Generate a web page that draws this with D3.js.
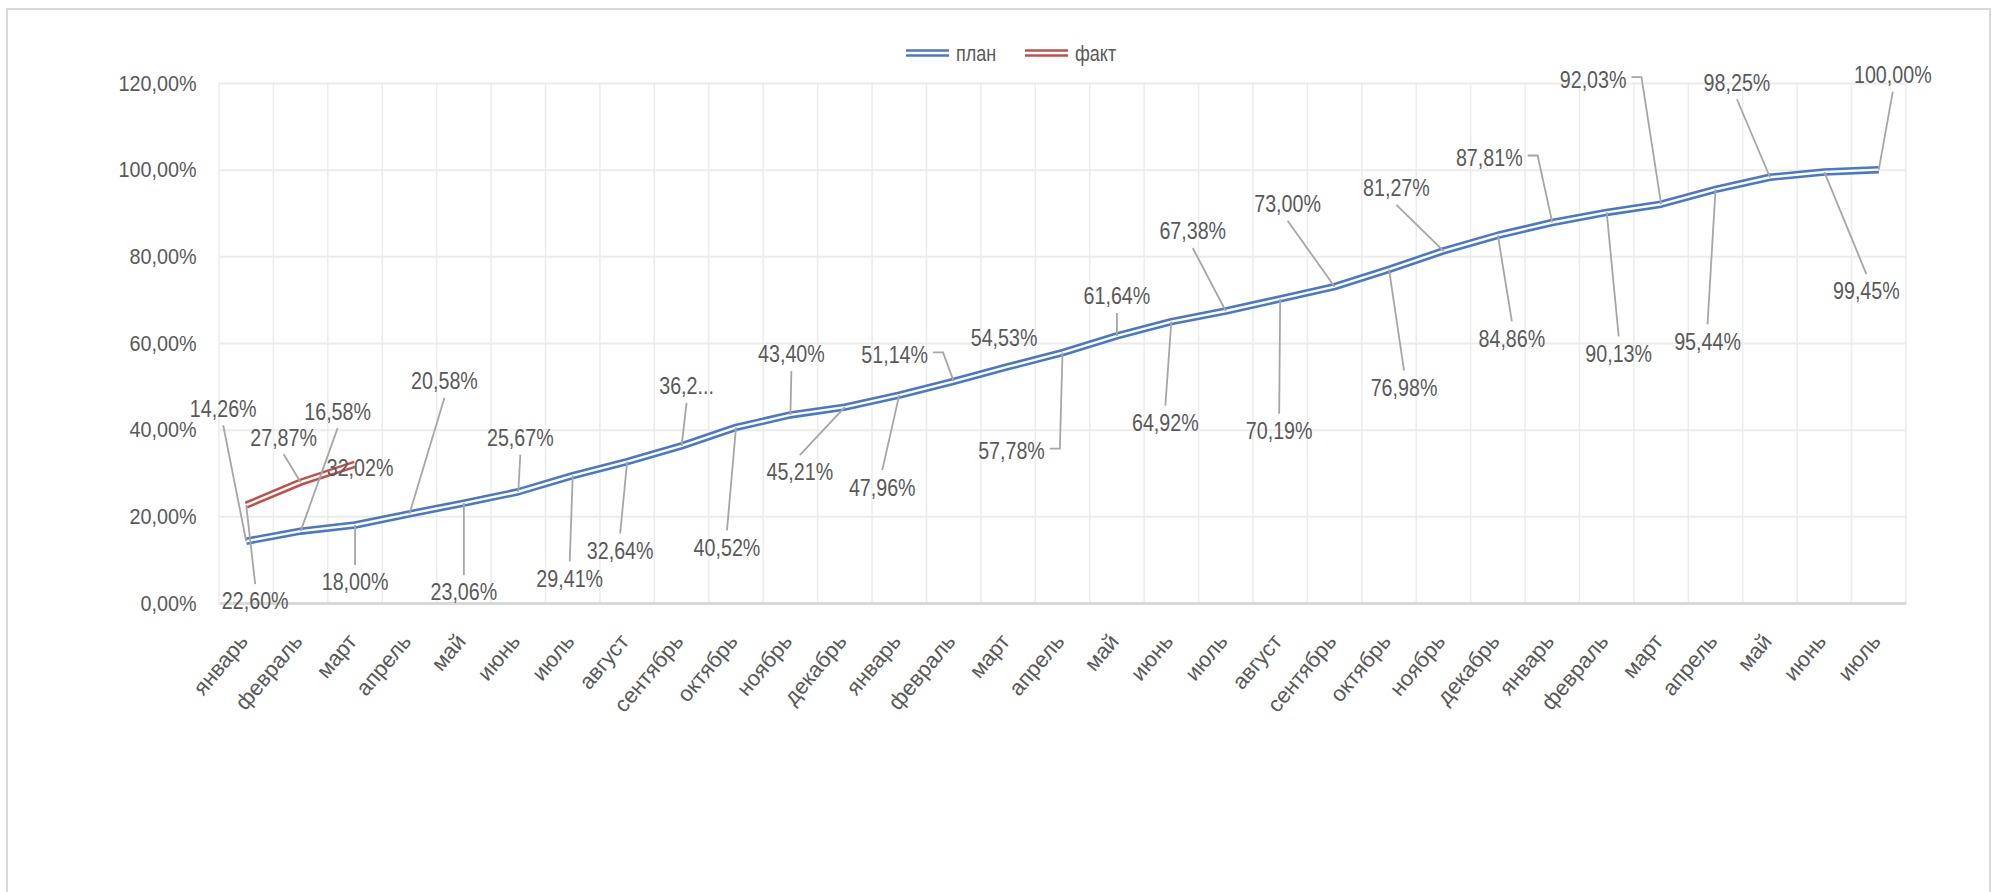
<!DOCTYPE html>
<html>
<head>
<meta charset="utf-8">
<script src="https://cdn.jsdelivr.net/npm/d3@7"></script>
<style>
  body { margin: 0; background: #fff; }
  text { font-family: "Liberation Sans", Arial, sans-serif; fill: #595959; }
</style>
</head>
<body>
<script>
// months on the x axis (Jan of year 1 .. Jul of year 3)
var months = ["январь","февраль","март","апрель","май","июнь","июль","август","сентябрь","октябрь","ноябрь","декабрь",
              "январь","февраль","март","апрель","май","июнь","июль","август","сентябрь","октябрь","ноябрь","декабрь",
              "январь","февраль","март","апрель","май","июнь","июль"];

// cumulative plan, %
var plan = [14.26,16.58,18.00,20.58,23.06,25.67,29.41,32.64,36.25,40.52,43.40,45.21,
            47.96,51.14,54.53,57.78,61.64,64.92,67.38,70.19,73.00,76.98,81.27,84.86,
            87.81,90.13,92.03,95.44,98.25,99.45,100.00];

// actual, % (only first three months)
var fact = [22.60,27.87,32.02];

var yTicks = [0,20,40,60,80,100,120];

// label placement relative to the point: dx, dy, leader kind (s straight, e elbow, n none)
var planLabelPos = [[-23,-133,"s"],[37,-120,"s"],[0,57,"s"],[35,-133,"s"],[0,89,"s"],[2,-54,"s"],[-3,103,"s"],[-7,89,"s"],
  [5,-60,"s"],[-9,120,"s"],[1,-61,"s"],[-45,65,"s"],[-17,92,"s"],[-59,-27,"e"],[-4,-29,"n"],[-51,98,"e"],
  [0,-40,"s"],[-6,101,"s"],[-33,-80,"s"],[-1,132,"s"],[-47,-83,"s"],[15,118,"s"],[-47,-63,"s"],[14,103,"s"],
  [-63,-65,"e"],[12,141,"s"],[-68,-125,"e"],[-8,152,"s"],[-33,-95,"s"],[42,119,"s"],[14,-95,"s"]];
var factLabelPos = [[9,96,"s"],[-17,-45,"s"],[5,3,"n"]];

var W = 1997, H = 892;
var squeeze = 0.82; // narrow look of the original font
var svg = d3.select("body").append("svg").attr("width", W).attr("height", H);

// chart frame
svg.append("rect").attr("x", 7).attr("y", 9).attr("width", 1983).attr("height", 900)
  .attr("fill", "none").attr("stroke", "#d9d9d9").attr("stroke-width", 2);

var x = d3.scaleBand().domain(d3.range(months.length)).range([219, 1906]);
var y = d3.scaleLinear().domain([0, 120]).range([603, 83]);
var cx = function(i) { return x(i) + x.bandwidth() / 2; };

var loc = d3.formatLocale({decimal: ",", thousands: " ", grouping: [3], currency: ["", ""]});
var f2 = loc.format(".2f");
var pct = function(v) { return f2(v) + "%"; };

// vertical gridlines on category borders
svg.append("g").selectAll("line").data(d3.range(months.length + 1)).enter().append("line")
  .attr("x1", function(i) { return 219 + i * x.step(); })
  .attr("x2", function(i) { return 219 + i * x.step(); })
  .attr("y1", y(120)).attr("y2", y(0))
  .attr("stroke", "#ececec").attr("stroke-width", 1.5);

// y axis + horizontal gridlines
var ya = svg.append("g").attr("transform", "translate(219,0)")
  .call(d3.axisLeft(y).tickValues(yTicks).tickSize(-1687).tickPadding(25).tickFormat(pct));
ya.select(".domain").remove();
ya.selectAll("line").attr("stroke", "#ececec").attr("stroke-width", 2);
ya.selectAll("text").style("font-size", "22px").attr("fill", "#595959")
  .attr("transform", "scale(0.9,1)");

// x axis
var xa = svg.append("g").attr("transform", "translate(0,603)")
  .call(d3.axisBottom(x).tickSize(0).tickFormat(function(i) { return months[i]; }));
xa.select(".domain").attr("stroke", "#d9d9d9").attr("stroke-width", 3);
xa.selectAll("text")
  .style("font-size", "22px").attr("fill", "#595959")
  .attr("text-anchor", "end")
  .attr("x", 0).attr("y", 0).attr("dx", 0).attr("dy", 0)
  .attr("transform", "translate(3,39) rotate(-50)");

// lines, double (compound) style
var line = d3.line().x(function(d, i) { return cx(i); }).y(function(d) { return y(d); });

function doubleLine(data, color) {
  var g = svg.append("g");
  g.append("path").attr("d", line(data)).attr("fill", "none").attr("stroke", color)
    .attr("stroke-width", 7.5).attr("stroke-linejoin", "round");
  g.append("path").attr("d", line(data)).attr("fill", "none").attr("stroke", "#fff")
    .attr("stroke-width", 2.4).attr("stroke-linejoin", "round");
}
doubleLine(plan, "#4a78c6");
doubleLine(fact, "#c0504d");

// data labels with leader lines
var labelLayer = svg.append("g");
function addLabels(data, pos, truncateAt) {
  data.forEach(function(v, i) {
    var px = cx(i), py = y(v);
    var p = pos[i];
    var lx = px + p[0], ly = py + p[1];
    var txt = pct(v);
    if (truncateAt.indexOf(i) >= 0) txt = txt.slice(0, 4) + "...";
    var t = labelLayer.append("text")
      .attr("transform", "translate(" + lx + "," + ly + ") scale(" + squeeze + ",1)")
      .attr("dy", "0.35em")
      .attr("text-anchor", "middle").style("font-size", "24px").attr("fill", "#595959").text(txt);
    var w = t.node().getComputedTextLength() * squeeze;
    var pts = null;
    if (p[2] === "s") {
      var sy = ly + (py > ly ? 17 : -17);
      pts = [[lx, sy], [px, py]];
    } else if (p[2] === "e") {
      var sx = lx + w / 2 + 5, ey = ly - 2;
      pts = [[sx, ey], [sx + 10, ey], [px, py]];
    }
    if (pts) {
      labelLayer.append("path").attr("d", d3.line()(pts)).attr("fill", "none")
        .attr("stroke", "#a6a6a6").attr("stroke-width", 1.8);
    }
  });
}
addLabels(plan, planLabelPos, [8]);
addLabels(fact, factLabelPos, []);

// legend
var legend = svg.append("g").attr("transform", "translate(906,53)");
var items = [{name: "план", color: "#4a78c6"}, {name: "факт", color: "#c0504d"}];
items.forEach(function(it, k) {
  var g = legend.append("g").attr("transform", "translate(" + (k * 119) + ",0)");
  g.append("line").attr("x1", 0).attr("x2", 43).attr("y1", 0).attr("y2", 0)
    .attr("stroke", it.color).attr("stroke-width", 7.5);
  g.append("line").attr("x1", 0).attr("x2", 43).attr("y1", 0).attr("y2", 0)
    .attr("stroke", "#fff").attr("stroke-width", 2.4);
  g.append("text").attr("transform", "translate(50,0) scale(" + squeeze + ",1)")
    .attr("dy", "0.35em").style("font-size", "22px").text(it.name);
});
</script>
</body>
</html>
